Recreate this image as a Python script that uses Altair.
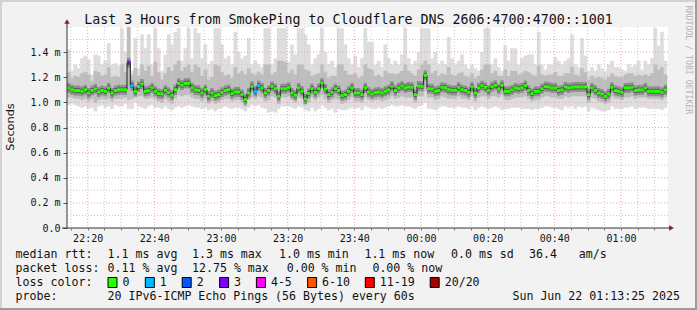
import altair as alt
import pandas as pd

# ---------------- data ----------------
START_MIN = 13.8          # first step, minutes after 22:00
STEP_MIN = 1.0            # one SmokePing step = 60 s

# median rtt per step (ms)
med = [1.115,1.10,1.094,1.094,1.088,1.10,1.075,1.094,1.107,1.083,1.094,1.088,1.115,1.075,1.094,1.10,1.10,1.10,1.315,1.133,
       1.088,1.125,1.146,1.088,1.094,1.115,1.088,1.07,1.067,1.096,1.08,1.057,1.10,1.152,1.138,1.152,
       1.152,1.115,1.099,1.096,1.075,1.101,1.049,1.075,1.054,1.062,1.080,1.094,1.101,1.070,1.083,1.083,1.062,1.022,1.075,1.128,
       1.088,1.133,1.115,1.075,1.094,1.128,1.109,1.049,1.109,1.109,1.120,1.075,1.057,1.115,1.088,1.027,
       1.070,1.109,1.080,1.109,1.154,1.107,1.062,1.080,1.109,1.094,1.054,1.062,1.088,1.115,1.075,1.075,1.062,1.115,1.083,1.067,
       1.078,1.083,1.075,1.088,1.099,1.128,1.094,1.115,1.130,1.115,1.123,1.120,1.062,1.130,1.128,1.215,
       1.109,1.107,1.088,1.094,1.120,1.115,1.101,1.096,1.096,1.120,1.101,1.094,1.080,1.123,1.075,1.115,1.133,1.120,1.096,1.125,
       1.136,1.107,1.136,1.088,1.088,1.099,1.115,1.109,1.115,1.133,1.094,1.070,1.088,1.088,1.109,1.125,
       1.123,1.115,1.115,1.094,1.099,1.123,1.115,1.120,1.123,1.123,1.123,1.123,1.062,1.115,1.096,1.075,1.067,1.049,1.067,1.120,
       1.094,1.088,1.080,1.115,1.115,1.120,1.094,1.099,1.099,1.115,1.088,1.088,1.088,1.088,1.080,1.099]

# slowest ping per step (ms) - top of the lightest smoke
mx = [1.42,1.25,1.30,1.27,1.35,1.37,1.34,1.22,1.38,1.37,1.30,1.33,1.47,1.30,1.31,1.29,1.59,1.40,1.60,1.25,
      1.51,1.27,1.54,1.43,1.54,1.30,1.59,1.43,1.25,1.38,1.54,1.46,1.56,1.59,1.33,1.43,
      1.59,1.35,1.59,1.55,1.35,1.46,1.30,1.33,1.59,1.59,1.46,1.35,1.37,1.30,1.56,1.40,1.35,1.37,1.51,1.30,
      1.33,1.30,1.28,1.59,1.59,1.30,1.35,1.59,1.59,1.59,1.32,1.46,1.38,1.59,1.59,1.54,
      1.46,1.30,1.35,1.38,1.59,1.40,1.30,1.33,1.28,1.59,1.59,1.46,1.35,1.30,1.37,1.28,1.35,1.59,1.48,1.48,
      1.30,1.33,1.28,1.46,1.35,1.30,1.33,1.30,1.38,1.59,1.35,1.30,1.33,1.40,1.59,1.59,
      1.59,1.35,1.40,1.30,1.33,1.30,1.52,1.35,1.30,1.33,1.38,1.30,1.27,1.30,1.27,1.25,1.40,1.59,1.59,1.30,
      1.35,1.28,1.25,1.45,1.33,1.43,1.43,1.30,1.35,1.37,1.38,1.38,1.30,1.56,1.30,1.26,
      1.30,1.30,1.36,1.33,1.30,1.33,1.35,1.54,1.30,1.28,1.51,1.37,1.25,1.28,1.25,1.30,1.27,1.25,1.30,1.33,
      1.28,1.28,1.26,1.25,1.30,1.28,1.30,1.33,1.26,1.33,1.30,1.35,1.59,1.45,1.56,1.33]

# upper edge of the denser (middle) smoke (ms)
hi = [1.24,1.19,1.21,1.20,1.23,1.24,1.22,1.17,1.25,1.24,1.21,1.22,1.28,1.20,1.21,1.20,1.30,1.24,1.60,1.22,
      1.27,1.21,1.30,1.25,1.29,1.21,1.32,1.24,1.18,1.23,1.28,1.25,1.30,1.33,1.25,1.28,
      1.30,1.24,1.30,1.28,1.21,1.26,1.18,1.20,1.30,1.29,1.24,1.21,1.22,1.19,1.28,1.23,1.25,1.22,1.27,1.23,
      1.22,1.24,1.22,1.30,1.30,1.22,1.24,1.33,1.33,1.32,1.23,1.26,1.22,1.30,1.30,1.26,
      1.25,1.21,1.22,1.23,1.30,1.24,1.19,1.21,1.21,1.30,1.30,1.25,1.22,1.22,1.23,1.19,1.21,1.30,1.27,1.26,
      1.21,1.22,1.20,1.25,1.23,1.23,1.22,1.23,1.25,1.30,1.25,1.23,1.21,1.26,1.30,1.33,
      1.30,1.23,1.25,1.21,1.23,1.22,1.28,1.22,1.21,1.23,1.24,1.21,1.20,1.23,1.19,1.21,1.26,1.30,1.30,1.23,
      1.25,1.21,1.21,1.26,1.21,1.25,1.25,1.22,1.23,1.25,1.24,1.22,1.21,1.29,1.22,1.21,
      1.22,1.22,1.24,1.21,1.21,1.23,1.23,1.28,1.22,1.21,1.27,1.24,1.18,1.21,1.19,1.20,1.19,1.18,1.20,1.23,
      1.21,1.20,1.20,1.22,1.23,1.23,1.21,1.22,1.21,1.22,1.21,1.23,1.30,1.26,1.28,1.22]

# lower edge of the denser (middle) smoke (ms)
lo = [1.04,1.04,1.03,1.03,1.02,1.03,1.01,1.03,1.00,1.02,1.03,1.02,1.03,1.01,1.03,1.03,1.03,1.04,1.02,1.03,
      1.04,1.05,1.05,1.03,1.03,1.04,1.03,1.01,1.00,1.03,1.01,0.99,1.03,1.06,1.05,1.06,
      1.06,1.04,1.03,1.03,1.01,1.03,0.99,1.01,0.99,1.00,1.02,1.03,1.03,1.01,1.02,1.02,1.00,0.97,1.02,1.04,
      1.03,1.05,1.04,1.01,1.02,1.05,1.04,0.99,1.04,1.04,1.05,1.02,1.00,1.04,1.03,0.98,
      1.00,1.04,1.02,1.04,1.06,1.03,1.00,1.02,1.03,1.02,0.99,1.00,1.02,1.04,1.01,1.01,1.00,1.04,1.02,1.01,
      1.02,1.02,1.01,1.02,1.03,1.05,1.03,1.04,1.05,1.04,1.04,1.04,1.00,1.05,1.05,1.09,
      1.04,1.04,1.02,1.03,1.05,1.04,1.03,1.03,1.03,1.05,1.03,1.03,1.02,1.05,1.01,1.04,1.05,1.05,1.03,1.05,
      1.05,1.04,1.06,1.02,1.02,1.03,1.04,1.04,1.04,1.05,1.03,1.01,1.02,1.02,1.04,1.05,
      1.05,1.04,1.04,1.03,1.03,1.05,1.04,1.05,1.05,1.05,1.05,1.05,1.00,1.04,1.03,1.01,1.00,0.99,1.00,1.05,
      1.03,1.03,1.02,1.04,1.04,1.05,1.03,1.04,1.04,1.04,1.03,1.03,1.03,1.03,1.02,1.04]

# fastest ping per step (ms) - bottom of the lightest smoke
mn = [0.98,0.99,0.98,0.97,0.96,0.97,0.95,0.96,0.93,0.97,0.98,0.96,0.97,0.95,0.98,0.97,0.97,0.99,0.95,0.95,
      1.00,0.97,0.96,0.95,0.97,0.98,0.96,0.96,0.95,0.97,0.95,0.94,0.96,0.97,0.96,0.97,
      0.98,0.97,0.96,0.96,0.95,0.96,0.94,0.95,0.93,0.95,0.96,0.97,0.96,0.95,0.96,0.96,0.95,0.93,0.96,0.98,
      0.97,0.98,0.96,0.95,0.92,0.93,0.92,0.95,0.97,0.97,0.97,0.96,0.95,0.97,0.96,0.94,
      0.93,0.96,0.93,0.95,0.98,0.96,0.94,0.95,0.92,0.95,0.94,0.94,0.95,0.96,0.95,0.96,0.94,0.97,0.96,0.95,
      0.95,0.96,0.95,0.96,0.97,0.98,0.97,0.97,0.98,0.97,0.97,0.96,0.95,0.97,0.98,1.00,
      0.95,0.95,0.94,0.96,0.97,0.97,0.96,0.96,0.96,0.97,0.96,0.96,0.95,0.97,0.94,0.96,0.97,0.96,0.95,0.96,
      0.97,0.96,0.94,0.95,0.95,0.96,0.96,0.96,0.95,0.95,0.95,0.94,0.95,0.95,0.96,0.97,
      0.97,0.96,0.96,0.95,0.94,0.97,0.96,0.97,0.95,0.97,0.96,0.97,0.93,0.96,0.95,0.94,0.93,0.93,0.94,0.97,
      0.95,0.95,0.95,0.96,0.96,0.97,0.95,0.96,0.96,0.96,0.95,0.95,0.95,0.95,0.94,0.96]

# steps with packet loss, and lost pings in them
loss_steps = [18, 19, 56, 57]
loss_pings = [3, 1, 1, 1]

loss_labels = ["0", "1", "2", "3", "4-5", "6-10", "11-19", "20/20"]
loss_colors = ["#26ff00", "#00b8ff", "#0059ff", "#7e00ff", "#ff00ff", "#ff5500", "#ff0000", "#a10000"]

x_tick_minutes = [20, 40, 60, 80, 100, 120, 140, 160, 180]
x_tick_labels = ["22:20", "22:40", "23:00", "23:20", "23:40", "00:00", "00:20", "00:40", "01:00"]
x_minor_minutes = [15, 25, 30, 35, 45, 50, 55, 65, 70, 75, 85, 90, 95, 105, 110, 115,
                   125, 130, 135, 145, 150, 155, 165, 170, 175, 185, 190]
y_tick_values = [0.0, 0.2, 0.4, 0.6, 0.8, 1.0, 1.2, 1.4]
y_minor_values = [0.1, 0.3, 0.5, 0.7, 0.9, 1.1, 1.3, 1.5]

title_text = "Last 3 Hours from SmokePing to Cloudflare DNS 2606:4700:4700::1001"
rtt_row = ["median rtt:", "1.1 ms avg", "1.3 ms max", "1.0 ms min", "1.1 ms now", "0.0 ms sd", "36.4", "am/s"]
loss_row = ["packet loss:", "0.11 % avg", "12.75 % max", "0.00 % min", "0.00 % now"]
probe_row = ["probe:", "20 IPv6-ICMP Echo Pings (56 Bytes) every 60s"]
stamp_text = "Sun Jun 22 01:13:25 2025"

# ---------------- layout (pixels) ----------------
W, H = 601, 201
PL, PT = 67, 27
MONO = "DejaVu Sans Mono"

def loss_label(p):
    if p <= 3:
        return str(p)
    if p <= 5:
        return "4-5"
    if p <= 10:
        return "6-10"
    if p <= 19:
        return "11-19"
    return "20/20"

lost = dict(zip(loss_steps, loss_pings))
n = len(med)
df = pd.DataFrame({
    "t0": [START_MIN + i * STEP_MIN for i in range(n)],
    "t1": [START_MIN + (i + 1) * STEP_MIN for i in range(n)],
    "tc": [START_MIN + (i + 0.5) * STEP_MIN for i in range(n)],
    "med": med, "mx": mx, "hi": hi, "lo": lo, "mn": mn,
    "loss": [loss_label(lost.get(i, 0)) for i in range(n)],
})

xscale = alt.Scale(domain=[13.8, 194.1], nice=False, zero=False)
yscale = alt.Scale(domain=[0, 1.6], nice=False, zero=True)

lab_expr = " : ".join(f"datum.value == {m} ? '{l}'" for m, l in zip(x_tick_minutes, x_tick_labels)) + " : ''"
xaxis = alt.Axis(values=sorted(x_tick_minutes + x_minor_minutes), labelExpr=lab_expr, grid=False, domain=False,
                 tickSize=2, tickColor="#777777", labelPadding=3, labelOverlap=False, labelFlush=False,
                 labelFont=MONO, labelFontSize=10, labelColor="#111111", title=None, labelAngle=0)
yaxis = alt.Axis(values=y_tick_values,
                 labelExpr="datum.value == 0 ? '0.0\u00a0\u00a0' : format(datum.value, '.1f') + ' m'",
                 grid=False, domain=False, tickSize=4, tickColor="#555555", labelPadding=3,
                 labelFont=MONO, labelFontSize=10, labelColor="#111111", title=None, labelOverlap=False)

def X(f):
    return alt.X(f, scale=xscale, axis=xaxis)

def Y(f):
    return alt.Y(f, scale=yscale, axis=yaxis)

base = alt.Chart(df)
outer = base.mark_rect(color="#dddddd", stroke="#dddddd", strokeWidth=0.4, clip=True).encode(
    x=X("t0:Q"), x2="t1", y=Y("mn:Q"), y2="mx")
middle = base.mark_rect(color="#bdbdbd", stroke="#bdbdbd", strokeWidth=0.4, clip=True).encode(
    x=X("t0:Q"), x2="t1", y=Y("lo:Q"), y2="hi")

def grid(values, channel, color):
    d = alt.Chart(pd.DataFrame({"v": values}))
    enc = X("v:Q") if channel == "x" else Y("v:Q")
    return d.mark_rule(color=color, strokeDash=[1, 2], strokeWidth=1).encode(**{channel: enc})

grid_layers = [
    grid(y_minor_values, "y", "#c8c8c8"),
    grid(x_minor_minutes, "x", "#c8c8c8"),
    grid(y_tick_values[1:], "y", "#eba4a4"),
    grid(x_tick_minutes, "x", "#eba4a4"),
]

core1 = base.mark_rule(color="#8e8e8e", strokeWidth=10, clip=True).encode(x=X("t0:Q"), x2="t1", y=Y("med:Q"))
core2 = base.mark_rule(color="#5a5a5a", strokeWidth=5, clip=True).encode(x=X("t0:Q"), x2="t1", y=Y("med:Q"))
joins = base.mark_line(interpolate="step", color="#202020", strokeWidth=1, clip=True).encode(
    x=X("tc:Q"), y=Y("med:Q"))
median = base.mark_rule(strokeWidth=3, clip=True).encode(
    x=X("t0:Q"), x2="t1", y=Y("med:Q"),
    color=alt.Color("loss:N", scale=alt.Scale(domain=loss_labels, range=loss_colors), legend=None))

one = pd.DataFrame({"a": [0]})
def rule(x, y, x2=None, y2=None, color="#222222", width=1):
    enc = dict(x=alt.value(x), y=alt.value(y))
    if x2 is not None:
        enc["x2"] = alt.value(x2)
    if y2 is not None:
        enc["y2"] = alt.value(y2)
    return alt.Chart(one).mark_rule(color=color, strokeWidth=width).encode(**enc)

axis_lines = [
    rule(0, H, y2=-5, color="#333333"),
    rule(-5, H, x2=605, color="#333333"),
]
arrows = [
    alt.Chart(one).mark_point(shape="triangle-up", filled=True, color="#9a1a1a", size=30, opacity=1).encode(
        x=alt.value(0), y=alt.value(-5.5)),
    alt.Chart(one).mark_point(shape="triangle-right", filled=True, color="#9a1a1a", size=30, opacity=1).encode(
        x=alt.value(604.5), y=alt.value(H)),
]
borders = [
    rule(-PL, -PT + 1, x2=697 - PL, color="#d2d2d2", width=2),
    rule(-PL + 1, -PT, y2=310 - PT, color="#d2d2d2", width=2),
    rule(-PL, 310 - PT - 1, x2=697 - PL, color="#9c9c9c", width=2),
    rule(697 - PL - 1, -PT, y2=310 - PT, color="#9c9c9c", width=2),
]

def text(t, x, y, size=11.6, font=MONO, align="left", color="#111111", angle=0):
    return alt.Chart(pd.DataFrame({"t": [t]})).mark_text(
        font=font, fontSize=size, align=align, baseline="middle", color=color, angle=angle).encode(
        text="t:N", x=alt.value(x - PL), y=alt.value(y - PT))

texts = [
    text(title_text, 348.5, 19.5, size=13.3, align="center"),
    text("Seconds", 11, 127, size=11.3, font="DejaVu Sans", align="center", angle=270),
    text("RRDTOOL / TOBI OETIKER", 687.5, 60, size=8.2, align="center", color="#b4b4b4", angle=90),
    text(stamp_text, 680, 296.5, align="right"),
]
rtt_x = [15.6, 107.6, 192, 279, 364.4, 451, 529, 578.7]
loss_x = [15.6, 107.6, 192, 286.7, 372.4]
probe_x = [15.6, 107.6]
for row, xs, yy in [(rtt_row, rtt_x, 254.5), (loss_row, loss_x, 268.5), (probe_row, probe_x, 296.5)]:
    for t, xx in zip(row, xs):
        texts.append(text(t, xx, yy))
texts.append(text("loss color:", 15.6, 282.5))

sw_x = [108, 145.3, 182.2, 219.6, 256.4, 307.6, 365.3, 430.2]
sw_df = pd.DataFrame({"lab": loss_labels, "col": loss_colors,
                      "x0": [v - PL for v in sw_x], "x1": [v - PL + 9 for v in sw_x],
                      "y0": [277.5 - PT] * 8, "y1": [287.5 - PT] * 8,
                      "tx": [v - PL + 14.5 for v in sw_x], "ty": [282.5 - PT] * 8})
swatches = alt.Chart(sw_df).mark_rect(stroke="#000000", strokeWidth=1).encode(
    x=alt.X("x0:Q", scale=None, axis=None), x2="x1",
    y=alt.Y("y0:Q", scale=None, axis=None), y2="y1",
    color=alt.Color("col:N", scale=None, legend=None))
sw_text = alt.Chart(sw_df).mark_text(font=MONO, fontSize=11.6, align="left", baseline="middle", color="#111111").encode(
    x=alt.X("tx:Q", scale=None, axis=None), y=alt.Y("ty:Q", scale=None, axis=None), text="lab:N")

data_layer = alt.layer(outer, middle, *grid_layers, core1, core2, joins, median)

chart = alt.layer(
    data_layer, *axis_lines, *arrows, *borders, *texts, swatches, sw_text
).resolve_scale(color="independent", x="independent", y="independent").properties(
    width=W, height=H,
    padding={"left": PL, "top": PT, "right": 697 - PL - W, "bottom": 310 - PT - H},
    autosize=alt.AutoSizeParams(type="none"),
    background="#f2f2f2",
).configure_view(stroke=None, fill="white")

chart.save("out.html", embed_options={"renderer": "svg", "actions": False})
